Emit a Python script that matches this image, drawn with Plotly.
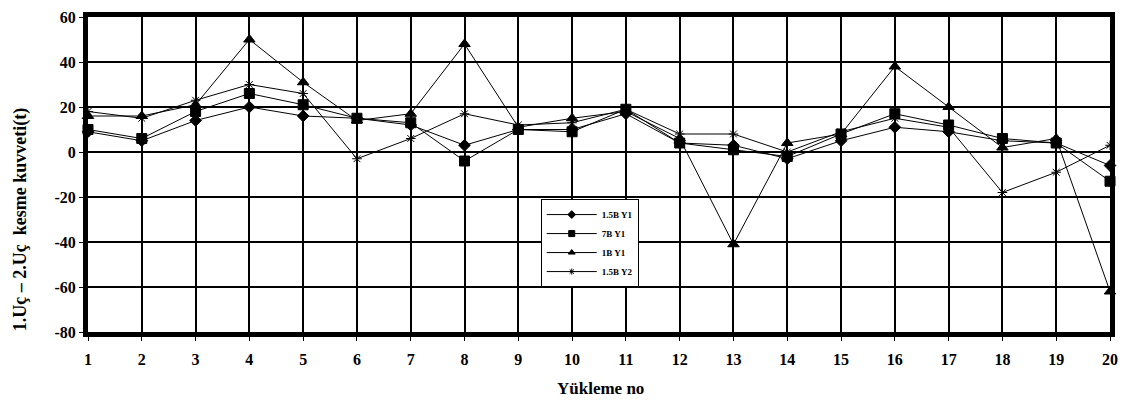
import plotly.graph_objects as go

x_vals = list(range(1, 21))
s_15by1 = [9, 5, 14, 20, 16, 15, 12, 3, 10, 10, 17, 4, 3, -3, 5, 11, 9, 5, 4, -6]
s_7by1 = [10, 6, 18, 26, 21, 15, 13, -4, 10, 9, 19, 4, 1, -2, 8, 17, 12, 6, 4, -13]
s_1by1 = [16, 16, 21, 50, 31, 14, 17, 48, 11, 15, 18, 6, -41, 4, 8, 38, 20, 2, 6, -62]
s_15by2 = [18, 15, 23, 30, 26, -3, 6, 17, 12, 13, 19, 8, 8, 0, 9, 15, 11, -18, -9, 3]
names = ["1.5B Y1", "7B Y1", "1B Y1", "1.5B Y2"]
y_ticks = [60, 40, 20, 0, -20, -40, -60, -80]

series = [s_15by1, s_7by1, s_1by1, s_15by2]
symbols = ["diamond", "square", "triangle-up", "asterisk-open"]
sizes = [9, 10, 10, 8]
legend_sizes = [6, 6, 6, 5]

fig = go.Figure()
for name, ys, sym, sz in zip(names, series, symbols, sizes):
    fig.add_trace(go.Scatter(
        x=x_vals, y=ys, name=name, mode="lines+markers",
        line=dict(color="black", width=1),
        marker=dict(symbol=sym, size=sz, color="black",
                    line=dict(color="black", width=1)),
        cliponaxis=False, showlegend=False,
    ))
# legend-only entries (smaller legend symbols)
for name, sym, sz in zip(names, symbols, legend_sizes):
    fig.add_trace(go.Scatter(
        x=[None], y=[None], name=name, mode="lines+markers",
        line=dict(color="black", width=1),
        marker=dict(symbol=sym, size=sz, color="black",
                    line=dict(color="black", width=1)),
        showlegend=True,
    ))

font_family = "Liberation Serif"
fig.update_layout(
    width=1126, height=400,
    margin=dict(l=88, r=16, t=17, b=68),
    paper_bgcolor="white", plot_bgcolor="white",
    showlegend=True,
    legend=dict(
        x=0.443, y=0.422, xanchor="left", yanchor="top",
        bgcolor="white", bordercolor="black", borderwidth=1,
        font=dict(family=font_family, size=9, color="black", weight="bold"),
        itemwidth=50, tracegroupgap=0,
    ),
    font=dict(family=font_family, color="black"),
    annotations=[
        dict(
            text="1.Uç – 2.Uç  kesme kuvveti(t)", textangle=-90,
            xref="paper", yref="paper", x=-0.0665, y=0.355,
            xanchor="center", yanchor="middle", showarrow=False,
            font=dict(family=font_family, size=18, color="black", weight="bold"),
        ),
        dict(
            text="Yükleme no",
            xref="paper", yref="paper", x=0.501, y=-0.178,
            xanchor="center", yanchor="middle", showarrow=False,
            font=dict(family=font_family, size=17, color="black", weight="bold"),
        ),
    ],
)
fig.update_xaxes(
    range=[1, 20], tickvals=x_vals, ticktext=[str(v) for v in x_vals],
    showgrid=True, gridcolor="black", gridwidth=1.5,
    showline=True, linecolor="black", linewidth=5, mirror=True,
    ticks="outside", ticklen=4, tickcolor="black", tickwidth=1,
    tickfont=dict(family=font_family, size=16, color="black", weight="bold"),
    ticklabelstandoff=5, automargin=False,
    zeroline=False,
)
fig.update_yaxes(
    range=[-80, 60], tickvals=y_ticks, ticktext=[str(v) for v in y_ticks],
    showgrid=True, gridcolor="black", gridwidth=1.5,
    showline=True, linecolor="black", linewidth=5, mirror=True,
    ticks="outside", ticklen=4, tickcolor="black", tickwidth=1,
    tickfont=dict(family=font_family, size=16, color="black", weight="bold"),
    automargin=False, zeroline=False,
)

fig.write_html("out.html")
